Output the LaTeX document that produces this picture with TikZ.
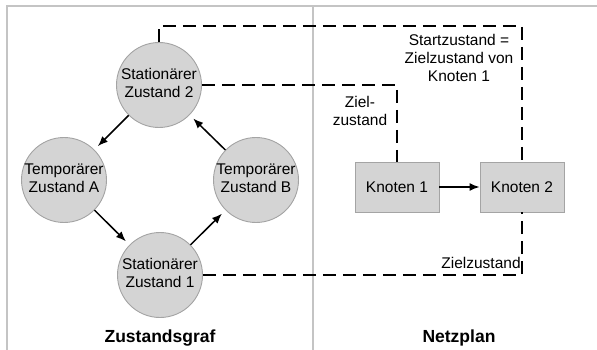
\documentclass[tikz,border=0pt]{standalone}
\usepackage{fontspec}
\setmainfont{Liberation Sans}
\usetikzlibrary{arrows.meta}
\definecolor{statefill}{HTML}{D4D4D4}
\definecolor{stateline}{HTML}{A4A4A4}
\definecolor{framegray}{HTML}{C4C4C4}
\newcommand{\twolines}[2]{\makebox[0pt]{\begin{tabular}{@{}c@{}}#1\\#2\end{tabular}}}
\tikzset{
  statenode/.style={circle, draw=stateline, fill=statefill, line width=0.9pt,
    minimum size=85pt, inner sep=0pt, font=\fontsize{15.5}{18}\selectfont},
  netnode/.style={rectangle, draw=stateline, fill=statefill, line width=0.9pt,
    minimum width=84pt, minimum height=50pt, inner sep=0pt,
    font=\fontsize{15.5}{18}\selectfont},
  flow/.style={line width=1.5pt, -{Latex[length=10pt,width=8pt]}},
  link/.style={line width=2pt, dash pattern=on 13pt off 7pt},
  note/.style={font=\fontsize{15.5}{18}\selectfont, align=center, inner sep=0pt},
  heading/.style={font=\fontsize{17.5}{20}\selectfont\bfseries, inner sep=0pt},
  frameline/.style={draw=framegray, line width=1.5pt}
}
\begin{document}
\begin{tikzpicture}[x=1pt, y=-1pt]
\useasboundingbox (0,0) rectangle (597,350);
% panel frame and divider
\draw[frameline] (7,350) -- (7,6) -- (597,6);
\draw[frameline] (313,6) -- (313,350);

% state graph
\node[statenode] (s2) at (159,85) {\twolines{Stationärer}{Zustand 2}};
\node[statenode] (ta) at (64,180) {\twolines{Temporärer}{Zustand A}};
\node[statenode] (tb) at (256,180) {\twolines{Temporärer}{Zustand B}};
\node[statenode] (s1) at (160,275) {\twolines{Stationärer}{Zustand 1}};

\draw[flow, shorten >=5pt] (s2) -- (ta);
\draw[flow, shorten >=5pt] (ta) -- (s1);
\draw[flow, shorten >=5pt] (s1) -- (tb);
\draw[flow, shorten >=5pt] (tb) -- (s2);

% network plan
\node[netnode] (k1) at (397,187) {Knoten 1};
\node[netnode] (k2) at (522,187) {Knoten 2};
\draw[flow] (k1) -- (k2);

% correspondence between states and plan nodes
\coordinate (topturn) at (159,26);
\draw[link] (s2.north) -- (topturn) -| (k2.north);
\draw[link] (s2.east) -| (k1.north);
\draw[link] (s1.east) -| (k2.south);

\node[note] (startlbl) at (459,58) {Startzustand =\\Zielzustand von\\Knoten 1};
\node[note] (ziel1) at (360,111) {Ziel-\\zustand};
\node[note] (ziel2) at (481,263) {Zielzustand};

\node[heading] (h1) at (160,338) {Zustandsgraf};
\node[heading] (h2) at (459,338) {Netzplan};
\end{tikzpicture}
\end{document}
